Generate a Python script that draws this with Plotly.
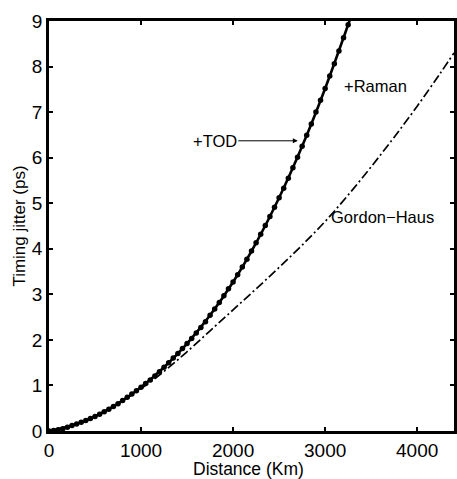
import plotly.graph_objects as go

# ---- data ----
tod_km = [0, 250, 500, 750, 1000, 1250, 1500, 1750, 2000, 2250, 2500, 2750, 3000, 3250, 3300]
tod_ps = [0.00, 0.12, 0.32, 0.60, 0.96, 1.40, 1.92, 2.54, 3.27, 4.13, 5.12, 6.25, 7.52, 8.92, 9.21]

raman_km = list(range(0, 3301, 50))
raman_ps = [0.00, 0.01, 0.03, 0.05, 0.08, 0.12, 0.155, 0.19, 0.23, 0.275,
            0.32, 0.37, 0.42, 0.48, 0.54, 0.60, 0.67, 0.74, 0.81, 0.885,
            0.96, 1.04, 1.12, 1.21, 1.30, 1.40, 1.50, 1.60, 1.70, 1.81,
            1.92, 2.03, 2.15, 2.27, 2.40, 2.54, 2.68, 2.82, 2.97, 3.12,
            3.27, 3.43, 3.60, 3.77, 3.95, 4.13, 4.32, 4.51, 4.71, 4.91,
            5.12, 5.33, 5.55, 5.78, 6.01, 6.25, 6.49, 6.74, 7.00, 7.26,
            7.52, 7.79, 8.06, 8.34, 8.63, 8.92, 9.21]

gh_km = [0, 250, 500, 750, 1000, 1250, 1500, 1750, 2000, 2250, 2500, 2750, 3000,
         3250, 3500, 3750, 4000, 4250, 4400]
gh_ps = [0.00, 0.12, 0.32, 0.60, 0.93, 1.31, 1.74, 2.20, 2.66, 3.12, 3.59, 4.08, 4.60,
         5.18, 5.80, 6.45, 7.13, 7.85, 8.30]

x_ticks = [0, 1000, 2000, 3000, 4000]
y_ticks = [0, 1, 2, 3, 4, 5, 6, 7, 8, 9]

FONT = "Liberation Sans, Arial, Helvetica, sans-serif"
BLACK = "#000000"

fig = go.Figure()
fig.add_trace(go.Scatter(x=gh_km, y=gh_ps, mode="lines",
                         line=dict(color=BLACK, width=1.7, dash="9px,3px,2px,3px", shape="spline"),
                         showlegend=False))
fig.add_trace(go.Scatter(x=tod_km, y=tod_ps, mode="lines",
                         line=dict(color=BLACK, width=2.6, shape="spline"),
                         showlegend=False))
fig.add_trace(go.Scatter(x=raman_km, y=raman_ps, mode="markers",
                         marker=dict(color=BLACK, size=5.5),
                         cliponaxis=True, showlegend=False))

fig.add_annotation(x=2703, y=6.37, xref="x", yref="y", text="+TOD",
                   showarrow=True, ax=-83, ay=0, arrowhead=2, arrowsize=1,
                   arrowwidth=1, arrowcolor=BLACK, standoff=0,
                   font=dict(family=FONT, size=16.5, color=BLACK))
fig.add_annotation(x=3545, y=7.58, xref="x", yref="y", text="+Raman",
                   showarrow=False, font=dict(family=FONT, size=16.5, color=BLACK))
fig.add_annotation(x=3620, y=4.69, xref="x", yref="y", text="Gordon\u2212Haus",
                   showarrow=False, font=dict(family=FONT, size=16.5, color=BLACK))

# x-axis title placed as paper text just under the tick labels
fig.add_annotation(x=0.493, y=0, xref="paper", yref="paper", text="Distance (Km)",
                   showarrow=False, xanchor="center", yanchor="middle", yshift=-38,
                   font=dict(family=FONT, size=17.5, color=BLACK))

axis_common = dict(showgrid=False, zeroline=False, showline=True, linecolor=BLACK,
                   linewidth=2.5, mirror="allticks", ticks="inside", ticklen=4,
                   tickwidth=1.5, tickcolor=BLACK,
                   tickfont=dict(family=FONT, size=19, color=BLACK))

fig.update_xaxes(range=[0, 4400], tickvals=x_ticks, ticktext=[str(v) for v in x_ticks],
                 **axis_common)
fig.update_yaxes(range=[0, 9], tickvals=y_ticks, ticktext=[str(v) for v in y_ticks],
                 title=dict(text="Timing jitter (ps)", standoff=2,
                            font=dict(family=FONT, size=17, color=BLACK)),
                 **axis_common)

fig.update_layout(width=457, height=479, margin=dict(l=49, r=0, t=21, b=48),
                  plot_bgcolor="white", paper_bgcolor="white",
                  font=dict(family=FONT, color=BLACK))

fig.write_html("out.html")
